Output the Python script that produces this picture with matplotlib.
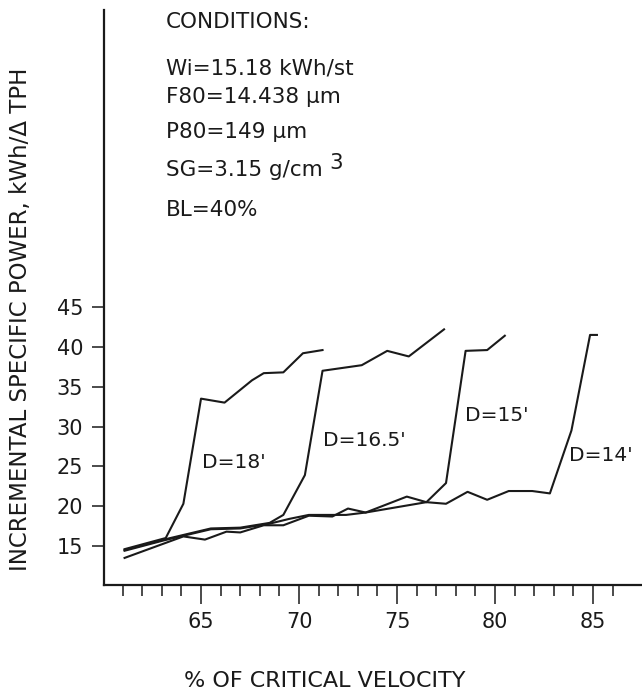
import matplotlib.pyplot as plt

# % of critical velocity vs incremental specific power
d18_x = [61.1, 63.2, 64.1, 65.0, 66.2, 67.6, 68.2, 69.2, 70.2, 71.2]
d18_y = [14.6, 16.0, 20.3, 33.5, 33.0, 35.8, 36.7, 36.8, 39.2, 39.6]

d165_x = [61.1, 63.1, 65.5, 67.0, 68.5, 69.2, 70.3, 71.2, 73.2, 74.5, 75.6, 77.4]
d165_y = [14.5, 15.8, 17.2, 17.3, 17.9, 18.9, 23.9, 37.0, 37.7, 39.5, 38.8, 42.2]

d15_x = [61.1, 64.1, 65.2, 66.3, 67.0, 68.2, 69.2, 70.5, 71.7, 72.5, 73.4, 75.5,
         76.5, 77.5, 78.5, 79.6, 80.5]
d15_y = [13.5, 16.2, 15.8, 16.8, 16.7, 17.6, 17.6, 18.8, 18.7, 19.7, 19.2, 21.2,
         20.5, 22.9, 39.5, 39.6, 41.4]

d14_x = [61.1, 63.1, 65.5, 67.0, 68.5, 69.5, 70.5, 72.4, 73.4, 76.5, 77.5, 78.6,
         79.6, 80.7, 81.9, 82.8, 83.9, 84.85, 85.2]
d14_y = [14.4, 15.7, 17.1, 17.2, 17.8, 18.4, 18.9, 18.9, 19.2, 20.5, 20.3, 21.8,
         20.8, 21.9, 21.9, 21.6, 29.5, 41.5, 41.5]

curve_labels = ["D=18'", "D=16.5'", "D=15'", "D=14'"]
label_x = [65.05, 71.2, 78.45, 83.8]
label_y = [25.5, 28.3, 31.4, 26.4]

conditions = ["CONDITIONS:", "Wi=15.18 kWh/st", "F80=14.438 \u00b5m",
              "P80=149 \u00b5m", "SG=3.15 g/cm", "BL=40%"]
cond_y_px = [22, 68, 97, 132, 170, 210]

W, H = 642, 691
fig = plt.figure(figsize=(W / 100, H / 100), dpi=100)
ax = fig.add_axes([104 / W, 106 / H, 538 / W, 575 / H])

ink = '#1a1a1a'
for xs, ys in [(d18_x, d18_y), (d165_x, d165_y), (d15_x, d15_y), (d14_x, d14_y)]:
    ax.plot(xs, ys, color=ink, lw=1.5)

for txt, x, y in zip(curve_labels, label_x, label_y):
    ax.text(x, y, txt, fontsize=14.5, color=ink, va='center', ha='left')

ax.set_xlim(60.05, 87.5)
ax.set_ylim(10.1, 82.3)
ax.set_xticks([65, 70, 75, 80, 85])
ax.set_xticks(list(range(61, 87)), minor=True)
ax.set_yticks([15, 20, 25, 30, 35, 40, 45])

for side in ['top', 'right']:
    ax.spines[side].set_visible(False)
for side in ['left', 'bottom']:
    ax.spines[side].set_linewidth(1.6)
    ax.spines[side].set_color(ink)

ax.tick_params(axis='x', which='major', direction='out', length=13.5, width=1.1,
               pad=6, labelsize=15, colors=ink)
ax.tick_params(axis='x', which='minor', direction='out', length=8, width=1.1, colors=ink)
ax.tick_params(axis='y', which='major', direction='out', length=9, width=1.1,
               pad=6, labelsize=15, colors=ink)

# axis titles
fig.text(21 / W, 1 - 319 / H, "INCREMENTAL SPECIFIC POWER, kWh/\u0394 TPH",
         rotation=90, ha='center', va='center', fontsize=16.5, color=ink)
fig.text(325 / W, 1 - 681 / H, "% OF CRITICAL VELOCITY",
         ha='center', va='center', fontsize=16, color=ink)

# conditions block
sg = None
for txt, ypx in zip(conditions, cond_y_px):
    t = fig.text(166 / W, 1 - ypx / H, txt, ha='left', va='center',
                 fontsize=15.5, color=ink)
    if txt.startswith("SG"):
        sg = t
ax.annotate("3", xy=(1, 0.5), xycoords=sg, xytext=(5, 5), textcoords='offset points',
            ha='left', va='center', fontsize=15.5, color=ink)

fig.savefig('out.png', dpi=100)
